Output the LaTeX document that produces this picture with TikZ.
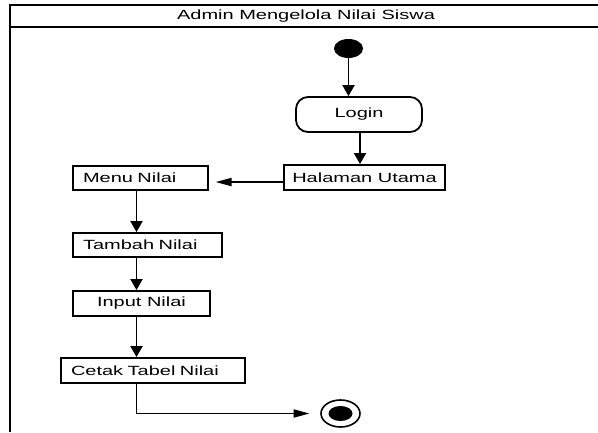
\documentclass[tikz,border=0pt]{standalone}
\usepackage{fontspec}
\setmainfont[FakeStretch=1.5]{Liberation Sans}
\usetikzlibrary{arrows.meta,shapes.geometric}
\begin{document}
\begin{tikzpicture}[x=0.75pt,y=-0.75pt,
  every node/.style={font=\fontsize{10pt}{11pt}\selectfont},
  act/.style={draw, line width=1.35pt, inner xsep=7.5pt, inner ysep=0pt, align=left},
  cact/.style={draw, line width=1.35pt, inner xsep=0pt, inner ysep=0pt, align=center},
  vflow/.style={line width=1.4pt, -{Triangle[length=8.25pt,width=9pt]}},
  hflow/.style={line width=1.4pt, -{Triangle[length=12pt,width=6pt]}},
  startnode/.style={ellipse, fill=black, minimum width=21.75pt, minimum height=14.25pt, inner sep=0pt},
]
\fill[white] (0,0) rectangle (598,432);
\useasboundingbox (0,0) rectangle (598,432);
% frame
\draw[line width=2pt] (598,5) -- (10,5) -- (10,432);
\draw[line width=1.6pt] (10,27) -- (598,27);
\node (title) at (306,16.5) {Admin Mengelola Nilai Siswa};
% nodes
\node[startnode] (start) at (348.5,48.5) {};
\node[cact, rounded corners=9pt, minimum width=94.5pt, minimum height=26.25pt] (login) at (359,114.5) {Login};
\node[cact, minimum width=120.75pt, minimum height=18.75pt] (hal) at (364.5,177.5) {Halaman Utama};
\node[act, text width=86.25pt, minimum height=18pt] (menu) at (140.5,178) {Menu Nilai};
\node[act, text width=96.75pt, minimum height=18pt] (tambah) at (147.5,245) {Tambah Nilai};
\node[cact, minimum width=102.75pt, minimum height=18.75pt] (input) at (141.5,303.5) {Input Nilai};
\node[act, text width=123pt, minimum height=18.75pt] (cetak) at (153,370.5) {Cetak Tabel Nilai};
\node[ellipse, draw, line width=1.2pt, minimum width=29.25pt, minimum height=20.25pt, inner sep=0pt] (final) at (340.5,413.5) {};
\node[ellipse, fill=black, minimum width=18pt, minimum height=11.25pt, inner sep=0pt] (finalin) at (final.center) {};
% columns
\coordinate (colA) at (136.5,0);
\coordinate (colB) at (360,0);
% connectors
\draw[vflow] (start.south) -- (start.south |- login.north);
\draw[vflow] (colB |- login.south) -- (colB |- hal.north);
\draw[hflow, shorten >=5pt] ([yshift=-3.4pt]hal.west) -- ([yshift=-3.4pt]hal.west -| menu.east);
\draw[vflow] (colA |- menu.south) -- (colA |- tambah.north);
\draw[vflow] (colA |- tambah.south) -- (colA |- input.north);
\draw[vflow] (colA |- input.south) -- (colA |- cetak.north);
\draw[hflow, shorten >=8pt] (colA |- cetak.south) -- (colA |- final.west) -- (final.west);
\end{tikzpicture}
\end{document}
